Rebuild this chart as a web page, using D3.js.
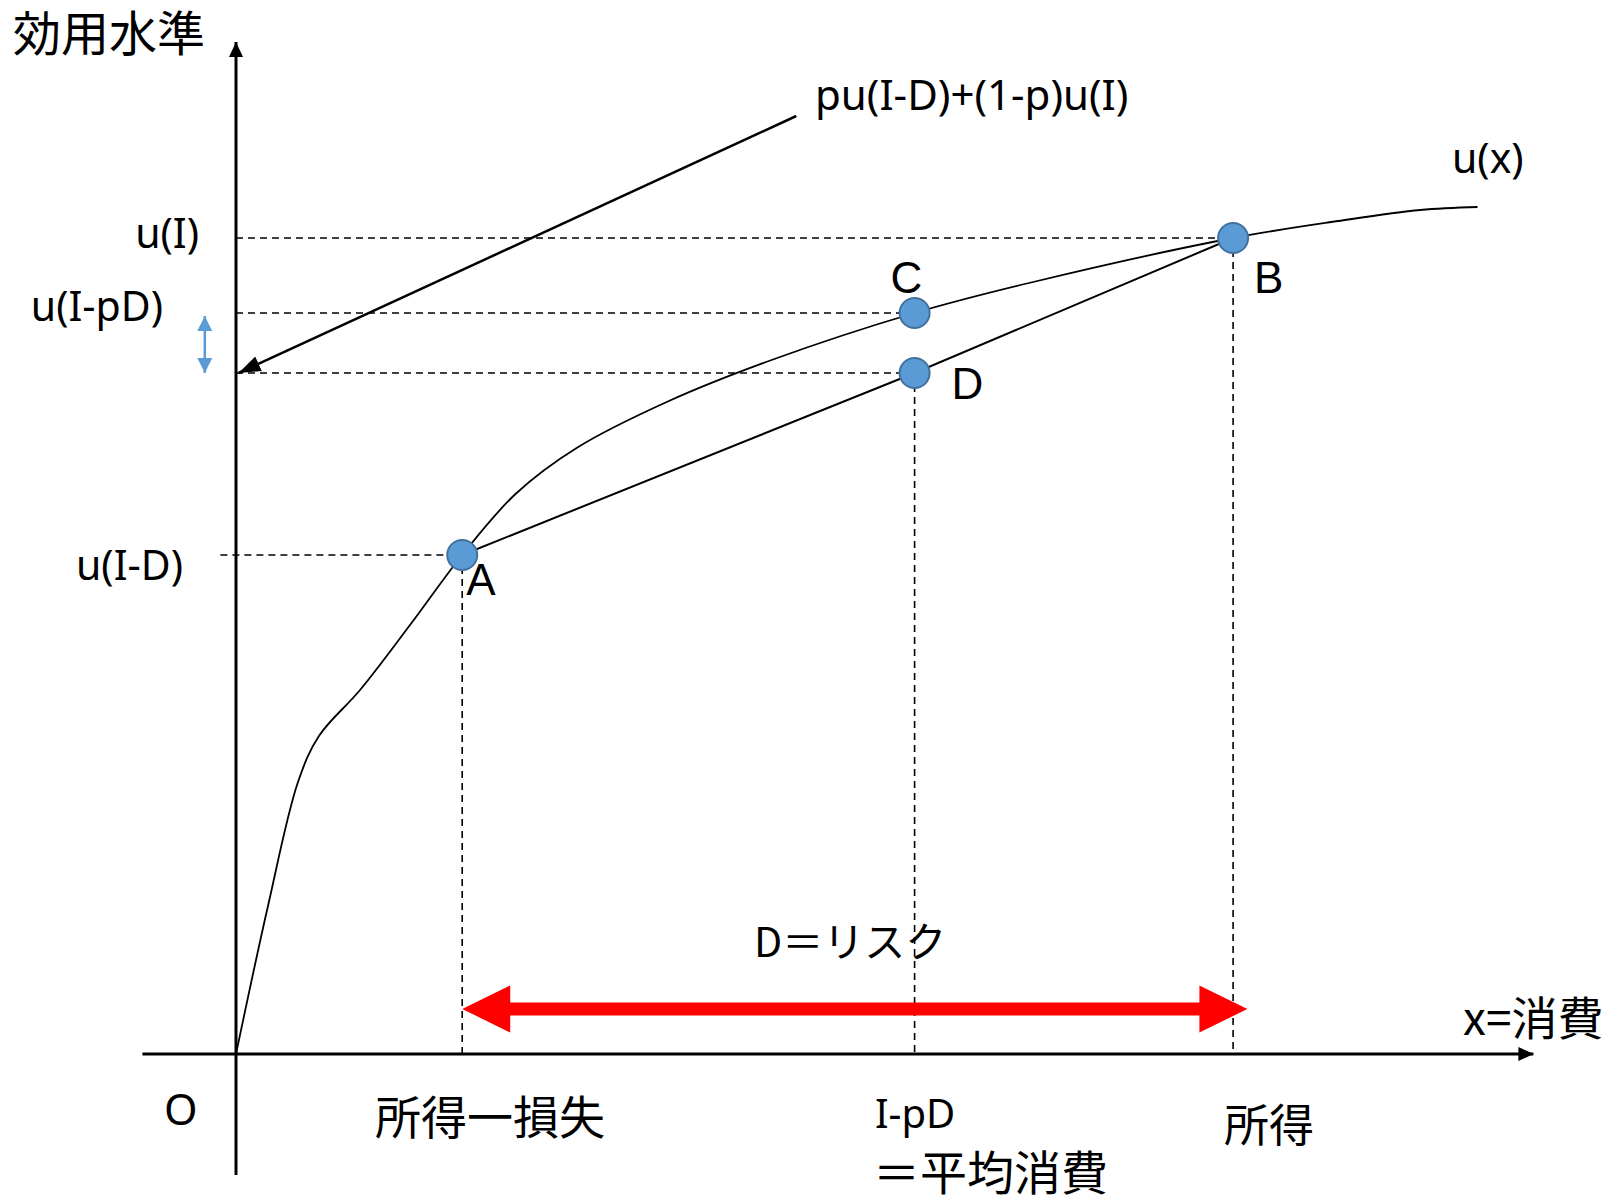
<!DOCTYPE html>
<html>
<head>
<meta charset="utf-8">
<script src="https://cdn.jsdelivr.net/npm/d3@7"></script>
<style>
  body { margin: 0; background: #fff; }
  text { fill: #000; }
</style>
</head>
<body>
<script>
// u(x), in chart units (x: 0..100, u: 0..100)
const curveX = [0, 2.46, 4.77, 6.38, 9.54, 13.5, 17.4, 21.5, 26.2, 33.3, 41.2, 52.2, 61.0, 76.7, 84.8, 91.1, 95.5];
const curveU = [0, 14.8, 27.2, 31.8, 36.4, 43.1, 49.9, 56.0, 60.6, 65.3, 69.4, 74.1, 77.1, 81.6, 83.3, 84.4, 84.7];

// the four marked points
const pointNames = ["A", "B", "C", "D"];
const pointX = [17.4, 76.7, 52.2, 52.2];
const pointU = [49.9, 81.6, 74.1, 68.1];

// labels on the u axis
const uLabels = ["u(I)", "u(I-pD)", "u(I-D)"];

const W = 1614, H = 1195;

const svg = d3.select("body").append("svg")
    .attr("width", W).attr("height", H)
    .style("display", "block");

const x = d3.scaleLinear().domain([0, 100]).range([236, 1536]);
const y = d3.scaleLinear().domain([0, 100]).range([1054, 54]);

const pts = pointNames.map((n, i) => ({ name: n, x: pointX[i], u: pointU[i] }));
const P = {};
pts.forEach(p => P[p.name] = p);

// arrow markers
const defs = svg.append("defs");
defs.append("marker").attr("id", "axisHead")
    .attr("viewBox", "0 0 15 14").attr("refX", 15).attr("refY", 7)
    .attr("markerWidth", 15).attr("markerHeight", 14)
    .attr("markerUnits", "userSpaceOnUse").attr("orient", "auto")
    .append("path").attr("d", "M0,0L15,7L0,14Z").attr("fill", "#000");
defs.append("marker").attr("id", "pointerHead")
    .attr("viewBox", "0 0 22 16").attr("refX", 22).attr("refY", 8)
    .attr("markerWidth", 22).attr("markerHeight", 16)
    .attr("markerUnits", "userSpaceOnUse").attr("orient", "auto")
    .append("path").attr("d", "M0,0L22,8L0,16Z").attr("fill", "#000");
defs.append("marker").attr("id", "blueHead")
    .attr("viewBox", "0 0 15 15").attr("refX", 15).attr("refY", 7.5)
    .attr("markerWidth", 15).attr("markerHeight", 15)
    .attr("markerUnits", "userSpaceOnUse").attr("orient", "auto-start-reverse")
    .append("path").attr("d", "M0,0L15,7.5L0,15Z").attr("fill", "#5b9bd5");

// axes
svg.append("line")
    .attr("x1", x(-7.2)).attr("y1", y(0)).attr("x2", x(99.8)).attr("y2", y(0))
    .attr("stroke", "#000").attr("stroke-width", 3).attr("marker-end", "url(#axisHead)");
svg.append("line")
    .attr("x1", x(0)).attr("y1", y(-12.1)).attr("x2", x(0)).attr("y2", y(101.2))
    .attr("stroke", "#000").attr("stroke-width", 3).attr("marker-end", "url(#axisHead)");

// dashed guides
const dash = svg.append("g")
    .attr("stroke", "#000").attr("stroke-width", 1.6).attr("stroke-dasharray", "7,5");
[["B", 0], ["C", 0], ["D", 0], ["A", -1.2]].forEach(([n, x0]) => {
    dash.append("line")
        .attr("x1", x(x0)).attr("y1", y(P[n].u)).attr("x2", x(P[n].x)).attr("y2", y(P[n].u));
});
["A", "D", "B"].forEach(n => {
    dash.append("line")
        .attr("x1", x(P[n].x)).attr("y1", y(P[n].u)).attr("x2", x(P[n].x)).attr("y2", y(0));
});

// u(x)
const line = d3.line().x(d => x(d[0])).y(d => y(d[1])).curve(d3.curveCatmullRom.alpha(0.5));
svg.append("path")
    .datum(curveX.map((v, i) => [v, curveU[i]]))
    .attr("d", line)
    .attr("fill", "none").attr("stroke", "#000").attr("stroke-width", 1.8);

// chord A-D-B
svg.append("path")
    .datum(["A", "D", "B"].map(n => [P[n].x, P[n].u]))
    .attr("d", d3.line().x(d => x(d[0])).y(d => y(d[1])))
    .attr("fill", "none").attr("stroke", "#000").attr("stroke-width", 2);

// pointer from the formula to the u axis
svg.append("line")
    .attr("x1", x(43.1)).attr("y1", y(93.8)).attr("x2", x(0.2)).attr("y2", y(P.D.u))
    .attr("stroke", "#000").attr("stroke-width", 2.5).attr("marker-end", "url(#pointerHead)");

// blue double arrow between u(I-pD) and the expected utility
svg.append("line")
    .attr("x1", x(-2.4)).attr("y1", y(P.C.u - 0.3)).attr("x2", x(-2.4)).attr("y2", y(P.D.u))
    .attr("stroke", "#5b9bd5").attr("stroke-width", 2.5)
    .attr("marker-start", "url(#blueHead)").attr("marker-end", "url(#blueHead)");

// red double arrow (risk D)
const rx0 = x(P.A.x), rx1 = x(77.8), ry = y(4.5);
const hl = 48, hh = 23.5, sh = 6.5;
svg.append("path")
    .attr("d", [
        "M", rx0, ry,
        "L", rx0 + hl, ry - hh, "L", rx0 + hl, ry - sh,
        "L", rx1 - hl, ry - sh, "L", rx1 - hl, ry - hh,
        "L", rx1, ry,
        "L", rx1 - hl, ry + hh, "L", rx1 - hl, ry + sh,
        "L", rx0 + hl, ry + sh, "L", rx0 + hl, ry + hh, "Z"
    ].join(" "))
    .attr("fill", "#ff0000");

// points
svg.selectAll("circle.pt").data(pts).enter().append("circle")
    .attr("class", "pt")
    .attr("cx", d => x(d.x)).attr("cy", d => y(d.u)).attr("r", 15)
    .attr("fill", "#5b9bd5").attr("stroke", "#41719c").attr("stroke-width", 2);

// texts
const latin = "'Noto Sans', 'Open Sans', sans-serif";
const arial = "'Liberation Sans', Arial, sans-serif";
const cjk = "'Noto Sans CJK JP', sans-serif";
function label(t, px, py, size, font, anchor) {
    svg.append("text").attr("x", px).attr("y", py)
        .attr("font-family", font).attr("font-size", size)
        .attr("text-anchor", anchor || "start").text(t);
}

label("効用水準", 13, 51, 48, cjk);
label(uLabels[0], 199, y(P.B.u) + 10, 41, latin, "end");
label(uLabels[1], 163, y(P.C.u) + 8, 41, latin, "end");
label(uLabels[2], 183, y(P.A.u) + 25, 41, latin, "end");
label("pu(I-D)+(1-p)u(I)", 815, 110, 42, latin);
label("u(x)", 1452, 173, 41, latin);

const ptLabelDx = { A: 4, B: 21, C: -24, D: 37 };
const ptLabelDy = { A: 40, B: 55, C: -20, D: 26 };
pts.forEach(p => label(p.name, x(p.x) + ptLabelDx[p.name], y(p.u) + ptLabelDy[p.name], 44, arial));

label("D＝リスク", 754, 957, 41, cjk);
label("x=消費", 1463, 1035, 46, cjk);
label("O", 164, 1125, 43, latin);
label("所得一損失", 375, 1134, 46, cjk);
label("I-pD", 875, 1128, 40, latin);
label("＝平均消費", 873, 1190, 47, cjk);
label("所得", 1224, 1142, 45, cjk);
</script>
</body>
</html>
